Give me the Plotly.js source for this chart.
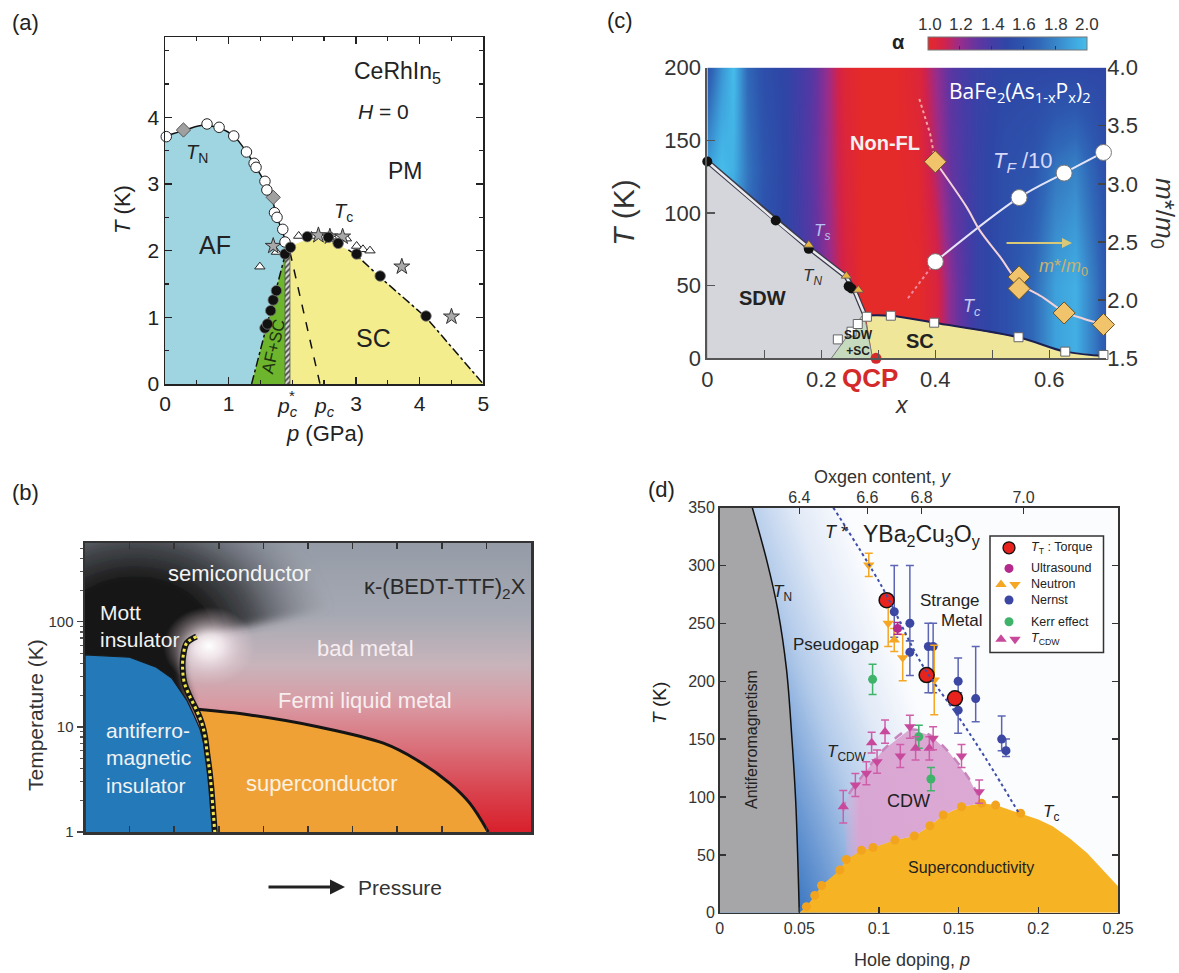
<!DOCTYPE html>
<html>
<head>
<meta charset="utf-8">
<script src="https://cdn.plot.ly/plotly-3.0.1.min.js"></script>
<style>
  html, body { margin: 0; padding: 0; background: #fff; }
  #fig { width: 1179px; height: 973px; }
</style>
</head>
<body>
<div id="fig"></div>
<script>
// ---------------- (a) CeRhIn5 at H = 0 ----------------
const aOpen_p   = [0.02, 0.66, 0.85, 1.08, 1.28, 1.40, 1.43, 1.57, 1.60, 1.72, 1.76, 1.85, 1.885];
const aOpen_T   = [3.71, 3.90, 3.85, 3.72, 3.48, 3.31, 3.25, 3.04, 2.91, 2.57, 2.50, 2.32, 2.13];
const aDiam_p   = [0.29, 1.70];
const aDiam_T   = [3.81, 2.80];
const aTc_p     = [1.57, 1.61, 1.66, 1.70, 1.75, 1.885, 1.97, 2.235, 2.565, 2.72, 3.01, 3.38, 4.10];
const aTc_T     = [0.84, 0.90, 1.10, 1.26, 1.40, 1.95, 2.05, 2.21, 2.20, 2.11, 1.95, 1.62, 1.02];
const aTri_p    = [1.49, 1.75, 2.10, 2.30, 2.62, 2.85, 3.01, 3.11, 3.22];
const aTri_T    = [1.76, 1.98, 2.22, 2.22, 2.21, 2.18, 2.07, 2.02, 2.00];
const aStar_p   = [1.70, 2.41, 2.59, 2.79, 3.72, 4.50];
const aStar_T   = [2.07, 2.23, 2.21, 2.21, 1.76, 1.01];
const aTNline_p = [0, 0.15, 0.35, 0.60, 0.85, 1.08, 1.28, 1.43, 1.57, 1.68, 1.76, 1.84, 1.93];
const aTNline_T = [3.72, 3.76, 3.82, 3.88, 3.84, 3.72, 3.48, 3.25, 3.02, 2.78, 2.50, 2.30, 2.03];
const aAFedge_p = [1.36, 1.885];
const aAFedge_T = [0, 1.93];
const aStrip_p  = [1.885, 1.963];
const aPc_p     = [1.963, 2.435];
const aPc_T     = [1.98, 0];
const aSCtop_p  = [1.963, 2.05, 2.235, 2.565, 2.72, 2.88, 3.01, 3.38, 4.10, 5.0];
const aSCtop_T  = [1.96, 2.10, 2.17, 2.16, 2.09, 2.01, 1.93, 1.60, 1.00, 0];

// ---------------- (b) kappa-(BEDT-TTF)2X ----------------
const bAF_x  = [0, 1.0, 1.6, 1.95, 2.12, 2.28, 2.44, 2.58, 2.66, 2.72, 2.78, 2.82, 2.86, 2.90];
const bAF_T  = [48.5, 46, 37, 29, 23, 18, 13, 9.5, 7, 5, 3.5, 2.5, 1.7, 1.0];
const bFO_x  = [2.50, 2.28, 2.20, 2.19, 2.23, 2.35, 2.50, 2.62, 2.69, 2.74, 2.79, 2.83, 2.86, 2.91];
const bFO_T  = [72.4, 62.7, 46.8, 34.9, 26.1, 19.5, 14.5, 10.8, 8.1, 5.6, 3.9, 2.7, 1.87, 1.0];
const bSC_x  = [2.52, 3.70, 5.19, 6.69, 7.44, 8.18, 8.63, 9.04];
const bSC_T  = [14.7, 13.0, 10.1, 7.0, 4.85, 2.9, 1.87, 1.0];
const bTickVals = [1, 10, 100];
const bTickText = ['1', '10', '100'];

// ---------------- (c) BaFe2(As1-xPx)2 ----------------
const alphaX = [0, 0.025, 0.045, 0.07, 0.10, 0.14, 0.18, 0.21, 0.24, 0.27, 0.33, 0.37, 0.40, 0.43, 0.47, 0.52, 0.57, 0.61, 0.645, 0.68, 0.70];
const alphaT = [0, 50, 130, 200];
const alphaZ = [
  [1.60, 1.70, 1.80, 1.70, 1.55, 1.48, 1.36, 1.22, 1.08, 1.00, 1.00, 1.00, 1.06, 1.25, 1.45, 1.55, 1.70, 1.90, 1.95, 1.75, 1.60],
  [1.60, 1.70, 1.80, 1.70, 1.55, 1.48, 1.36, 1.22, 1.08, 1.00, 1.00, 1.00, 1.06, 1.25, 1.45, 1.55, 1.70, 1.90, 1.95, 1.75, 1.60],
  [1.90, 2.00, 1.95, 1.75, 1.60, 1.48, 1.34, 1.20, 1.06, 1.00, 1.00, 1.02, 1.15, 1.32, 1.45, 1.55, 1.60, 1.75, 1.80, 1.65, 1.55],
  [1.60, 1.85, 2.00, 1.70, 1.55, 1.48, 1.36, 1.20, 1.04, 1.00, 1.00, 1.05, 1.20, 1.35, 1.45, 1.50, 1.50, 1.50, 1.50, 1.50, 1.50]
];
const alphaTicks = [1.0, 1.2, 1.4, 1.6, 1.8, 2.0];
const cTs_x   = [0, 0.12, 0.178, 0.244, 0.26, 0.275];
const cTs_T   = [135.4, 94.8, 76, 56, 45, 31];
const cSDWdot_x = [0, 0.12, 0.178, 0.248, 0.253];
const cSDWdot_T = [135.4, 94.8, 75.3, 49.5, 48];
const cStruct_x = [0.178, 0.244, 0.265];
const cStruct_T = [78, 56.7, 47];
const cMix_x  = [0.2175, 0.264, 0.275, 0.29];
const cMix_T  = [0, 25, 31, 0];
const cTc_x   = [0.278, 0.322, 0.398, 0.546, 0.628, 0.70];
const cTc_T   = [29.5, 29.3, 24.5, 14.5, 4.6, 1.5];
const cSq_x   = [0.229, 0.253, 0.264, 0.28, 0.322, 0.398, 0.546, 0.628, 0.695];
const cSq_T   = [13, 18.3, 23.6, 28.6, 29.3, 24.5, 14.5, 4.6, 2.3];
const cTF_x   = [0.40, 0.547, 0.626, 0.695];
const cTF_T   = [66.5, 110.6, 127.4, 141.6];
const cTFlow_x = [0.352, 0.40];
const cTFlow_T = [41.3, 66.5];
const cM_x    = [0.40, 0.547, 0.547, 0.626, 0.695];
const cM_v    = [3.19, 2.20, 2.10, 1.89, 1.79];
const cMline_x = [0.40, 0.455, 0.478, 0.514, 0.547, 0.59, 0.626, 0.66, 0.695];
const cMline_v = [3.19, 2.80, 2.60, 2.37, 2.15, 2.02, 1.90, 1.84, 1.79];
const cMhigh_x = [0.372, 0.391, 0.40];
const cMhigh_v = [3.73, 3.43, 3.19];
const cQCP = 0.296;

// ---------------- (d) YBa2Cu3Oy ----------------
const oxyTickLabels = ['6.4', '6.6', '6.8', '7.0'];
const oxyTickP      = [0.050, 0.0927, 0.1267, 0.1907];
const dTN_p  = [0.0205, 0.030, 0.0366, 0.042, 0.0453, 0.0478, 0.050];
const dTN_T  = [350, 302, 261, 210, 152, 95, 0];
const dTstar_p = [0.0713, 0.1017, 0.1268, 0.150, 0.1676, 0.1874];
const dTstar_T = [350, 282, 215, 169, 132, 87];
const dTc_p  = [0.050, 0.0545, 0.0597, 0.064, 0.0755, 0.0795, 0.089, 0.0963, 0.110, 0.1222, 0.132, 0.1403, 0.1518, 0.1644, 0.1732, 0.1889];
const dTc_T  = [0, 5.2, 15, 23.6, 37, 46, 54, 56.4, 62.8, 66.3, 75.2, 84.5, 91.6, 94.5, 93, 86];
const dTcEdge_p = [0.1889, 0.200, 0.209, 0.220, 0.2306, 0.240, 0.250];
const dTcEdge_T = [86, 80.5, 74.7, 64, 51.7, 38, 23];
const dCDW_p = [0.0776, 0.0797, 0.090, 0.1027, 0.119, 0.132, 0.1445, 0.157, 0.1644];
const dCDW_T = [88, 99, 119, 140.6, 158, 153.5, 137.7, 114.7, 95];
const torque_p = [0.1048, 0.1299, 0.1477];
const torque_T = [270, 205.3, 185.2];
const ultra_p = [0.1117];
const ultra_T = [245.6];
const ultra_err = [5];
const neutDn_p = [0.0936, 0.1058, 0.1149, 0.1347];
const neutDn_T = [300.4, 250, 220.3, 201];
const neutDn_err = [10, 20, 20, 30];
const neutUp_p = [0.1096];
const neutUp_T = [235.6];
const neutUp_err = [10];
const nernst_p = [0.1096, 0.1194, 0.1194, 0.131, 0.134, 0.1497, 0.1497, 0.1607, 0.177, 0.1797];
const nernst_T = [260, 250, 225, 230, 230, 200, 175, 185, 150, 140];
const nernst_up = [40, 50, 10, 20, 20, 20, 10, 45, 20, 10];
const nernst_dn = [22, 15, 20, 40, 40, 10, 20, 20, 10, 5];
const kerr_p = [0.096, 0.125, 0.1326];
const kerr_T = [201.6, 152, 115.5];
const kerr_err = [13, 10, 10];
const cdwUp_p = [0.0776, 0.0954, 0.1038, 0.123, 0.1316];
const cdwUp_T = [91.6, 146.9, 156.4, 142, 142];
const cdwUp_err = [14, 9, 10, 10, 10];
const cdwDn_p = [0.0852, 0.0921, 0.0988, 0.1134, 0.1194, 0.134, 0.1518, 0.1629];
const cdwDn_T = [110.4, 120.5, 130.5, 135.4, 160.7, 150.7, 135.4, 104.6];
const cdwDn_err = [10, 10, 10, 10, 10, 10, 10, 10];

// ================= drawing =================
const W = 1179, H = 973;
const FONT = 'Liberation Sans, Arial, Helvetica, sans-serif';
const box = {
  a: {l: 165, r: 483.3, t: 37.3, b: 384},
  b: {l: 85, r: 531, t: 543, b: 832},
  c: {l: 707.3, r: 1106.3, t: 67.6, b: 358.3},
  d: {l: 719.6, r: 1118, t: 507.5, b: 912.8}
};
const domX = P => [P.l / W, P.r / W];
const domY = P => [1 - P.b / H, 1 - P.t / H];
function label(text, X, Y, size, color, extra) {
  const a = {text: text, x: X / W, y: 1 - Y / H, xref: 'paper', yref: 'paper', showarrow: false,
    xanchor: 'center', yanchor: 'middle', font: {family: FONT, size: size, color: color || '#222'}};
  return Object.assign(a, extra || {});
}
// pixel -> data helpers for panel (d) legend glyphs
const dP = X => (X - box.d.l) / (box.d.r - box.d.l) * 0.25;
const dT = Y => (box.d.b - Y) / (box.d.b - box.d.t) * 350;

const traces = [];
const A = {xaxis: 'x', yaxis: 'y', hoverinfo: 'skip', showlegend: false, cliponaxis: false};
const B = {xaxis: 'x2', yaxis: 'y2', hoverinfo: 'skip', showlegend: false};
const C = {xaxis: 'x3', yaxis: 'y3', hoverinfo: 'skip', showlegend: false};
const CM = {xaxis: 'x3', yaxis: 'y5', hoverinfo: 'skip', showlegend: false};
const D = {xaxis: 'x4', yaxis: 'y4', hoverinfo: 'skip', showlegend: false};
const add = (base, t) => traces.push(Object.assign({}, base, t));

// ---- (a) regions
add(A, {type: 'scatter', mode: 'lines', fill: 'toself', fillcolor: '#9fd5e0', line: {width: 0},
  x: [0].concat(aTNline_p, aAFedge_p.slice().reverse()), y: [0].concat(aTNline_T, aAFedge_T.slice().reverse())});
add(A, {type: 'scatter', mode: 'lines', fill: 'toself', fillcolor: '#6cb52d', line: {width: 0},
  x: [aAFedge_p[0], aAFedge_p[1], aStrip_p[0]], y: [0, aAFedge_T[1], 0]});
add(A, {type: 'scatter', mode: 'lines', fill: 'toself', fillcolor: '#f3ed8d', line: {width: 0},
  x: [aStrip_p[1]].concat(aSCtop_p), y: [0].concat(aSCtop_T)});
add(A, {type: 'scatter', mode: 'lines', fill: 'toself', fillcolor: '#d8d8d8',
  fillpattern: {shape: '/', fgcolor: '#444', bgcolor: '#e0e0e0', size: 4, solidity: 0.45},
  line: {width: 0.8, color: '#555'},
  x: [aStrip_p[0], aStrip_p[0], aStrip_p[1], aStrip_p[1]], y: [0, aSCtop_T[0], aSCtop_T[0], 0]});
// (a) boundary lines
add(A, {type: 'scatter', mode: 'lines', x: aTNline_p, y: aTNline_T, line: {color: '#111', width: 1.5, shape: 'spline'}});
add(A, {type: 'scatter', mode: 'lines', x: aAFedge_p, y: aAFedge_T, line: {color: '#111', width: 1.5, dash: 'dashdot'}});
add(A, {type: 'scatter', mode: 'lines', x: aSCtop_p.slice(5), y: aSCtop_T.slice(5), line: {color: '#111', width: 1.5, dash: 'dashdot'}});
add(A, {type: 'scatter', mode: 'lines', x: aPc_p, y: aPc_T, line: {color: '#111', width: 1.5, dash: 'dash'}});
// (a) points
add(A, {type: 'scatter', mode: 'markers', x: aTri_p, y: aTri_T, marker: {symbol: 'triangle-up', size: 9, color: '#fff', line: {color: '#222', width: 1}}});
add(A, {type: 'scatter', mode: 'markers', x: aStar_p, y: aStar_T, marker: {symbol: 'star', size: 12, color: '#a8a8a8', line: {color: '#333', width: 1}}});
add(A, {type: 'scatter', mode: 'markers', x: aDiam_p, y: aDiam_T, marker: {symbol: 'diamond', size: 11, color: '#a0a0a0', line: {color: '#555', width: 1}}});
add(A, {type: 'scatter', mode: 'markers', x: aOpen_p, y: aOpen_T, marker: {symbol: 'circle', size: 10.5, color: '#fff', line: {color: '#222', width: 1}}});
add(A, {type: 'scatter', mode: 'markers', x: aTc_p, y: aTc_T, marker: {symbol: 'circle', size: 10.5, color: '#111', line: {color: '#777', width: 0.8}}});

// ---- (b) regions and lines
const bSCleft = [];
bFO_x.forEach((x, i) => { if (bFO_T[i] < bSC_T[0]) bSCleft.push([x, bFO_T[i]]); });
bSCleft.reverse();
add(B, {type: 'scatter', mode: 'lines', fill: 'toself', fillcolor: '#efa136', line: {width: 0},
  x: bSC_x.concat(bSCleft.map(p => p[0])), y: bSC_T.concat(bSCleft.map(p => p[1]))});
add(B, {type: 'scatter', mode: 'lines', fill: 'toself', fillcolor: '#2479b8', line: {color: '#1a1a1a', width: 1.2},
  x: [0].concat(bAF_x), y: [1].concat(bAF_T)});
add(B, {type: 'scatter', mode: 'lines', x: bSC_x, y: bSC_T, line: {color: '#151515', width: 3, shape: 'spline'}});
add(B, {type: 'scatter', mode: 'lines', x: bFO_x, y: bFO_T, line: {color: '#151515', width: 6, shape: 'spline'}});
add(B, {type: 'scatter', mode: 'lines', x: bFO_x, y: bFO_T, line: {color: '#f1e44a', width: 3, dash: 'dot', shape: 'spline'}});

// ---- (c) exponent map and phase regions
add(C, {type: 'heatmap', x: alphaX, y: alphaT, z: alphaZ, zmin: 1, zmax: 2, zsmooth: 'best',
  colorscale: [[0, '#e52a2a'], [0.1, '#d3224a'], [0.2, '#982d8c'], [0.3, '#6634a0'], [0.4, '#463ca6'],
               [0.5, '#2e47a6'], [0.6, '#2d55ae'], [0.7, '#3068b8'], [0.8, '#3884c8'], [0.9, '#3ea2dc'], [1, '#46bdeb']],
  colorbar: {orientation: 'h', x: (928 + 1087) / 2 / W, xanchor: 'center', y: 1 - 55 / H, yanchor: 'bottom',
    len: (1087 - 928) / W, lenmode: 'fraction', thickness: 13, thicknessmode: 'pixels',
    outlinewidth: 1, outlinecolor: '#777', showticklabels: false, ticks: 'inside', tickvals: alphaTicks,
    ticklen: 4, tickcolor: '#333', xpad: 0, ypad: 0}});
add(C, {type: 'scatter', mode: 'lines', fill: 'toself', fillcolor: '#d4d6dc', line: {width: 0},
  x: [0].concat(cTs_x, [cMix_x[3]]), y: [0].concat(cTs_T, [0])});
add(C, {type: 'scatter', mode: 'lines', fill: 'toself', fillcolor: '#efe69a', line: {width: 0},
  x: [cMix_x[3]].concat(cTc_x, [cTc_x[cTc_x.length - 1]]), y: [0].concat(cTc_T, [0])});
add(C, {type: 'scatter', mode: 'lines', fill: 'toself', fillcolor: '#c6dabd', line: {color: '#777', width: 1},
  x: cMix_x, y: cMix_T});
add(C, {type: 'scatter', mode: 'lines', x: cTs_x, y: cTs_T, line: {color: '#3a3a4a', width: 5}});
add(C, {type: 'scatter', mode: 'lines', x: cTs_x, y: cTs_T, line: {color: '#e9e9ee', width: 2.5}});
add(C, {type: 'scatter', mode: 'lines', x: cTc_x, y: cTc_T, line: {color: '#1c2050', width: 2, shape: 'spline'}});
add(C, {type: 'scatter', mode: 'lines', x: cTFlow_x, y: cTFlow_T, line: {color: '#f08aa0', width: 2, dash: 'dot'}});
add(C, {type: 'scatter', mode: 'lines', x: cTF_x, y: cTF_T, line: {color: '#e4e4f6', width: 2, shape: 'spline'}});
add(CM, {type: 'scatter', mode: 'lines', x: cMhigh_x, y: cMhigh_v, line: {color: '#f4a6a0', width: 2, dash: 'dot'}});
add(CM, {type: 'scatter', mode: 'lines', x: cMline_x, y: cMline_v, line: {color: '#f2d2d8', width: 2, shape: 'spline'}});
add(C, {type: 'scatter', mode: 'markers', x: cSq_x, y: cSq_T, cliponaxis: false, marker: {symbol: 'square', size: 9, color: '#fff', line: {color: '#666', width: 1}}});
add(C, {type: 'scatter', mode: 'markers', x: cSDWdot_x, y: cSDWdot_T, cliponaxis: false, marker: {symbol: 'circle', size: 10, color: '#111'}});
add(C, {type: 'scatter', mode: 'markers', x: cStruct_x, y: cStruct_T, marker: {symbol: 'triangle-up', size: 9, color: '#e8b444', line: {color: '#555', width: 0.8}}});
add(C, {type: 'scatter', mode: 'markers', x: cTF_x, y: cTF_T, cliponaxis: false, marker: {symbol: 'circle', size: 16, color: '#fff', line: {color: '#777', width: 1}}});
add(CM, {type: 'scatter', mode: 'markers', x: cM_x, y: cM_v, cliponaxis: false, marker: {symbol: 'diamond', size: 17, color: '#f1c46c', line: {color: '#6a5020', width: 1}}});
add(C, {type: 'scatter', mode: 'markers', x: [cQCP], y: [0], cliponaxis: false, marker: {symbol: 'circle', size: 11, color: '#d42a2a'}});

// ---- (d) regions
add(D, {type: 'scatter', mode: 'lines', fill: 'toself', fillcolor: '#a6a6a8', line: {width: 0},
  x: [0, 0].concat(dTN_p), y: [0, 350].concat(dTN_T)});
add(D, {type: 'scatter', mode: 'lines', fill: 'toself', fillcolor: '#f6b424', line: {width: 0},
  x: dTc_p.concat(dTcEdge_p.slice(1), [0.25]), y: dTc_T.concat(dTcEdge_T.slice(1), [0])});
const domeUnder = [];
dTc_p.forEach((p, i) => { if (p >= dCDW_p[0] && p <= dCDW_p[dCDW_p.length - 1]) domeUnder.push([p, dTc_T[i]]); });
domeUnder.reverse();
add(D, {type: 'scatter', mode: 'lines', fill: 'toself', fillcolor: 'rgba(218,164,210,0.95)',
  fillgradient: {type: 'horizontal', colorscale: [[0, 'rgba(218,164,210,0.1)'], [0.12, 'rgba(218,164,210,0.95)'], [1, 'rgba(218,164,210,0.95)']]},
  line: {width: 0},
  x: dCDW_p.concat(domeUnder.map(p => p[0])), y: dCDW_T.concat(domeUnder.map(p => p[1]))});
add(D, {type: 'scatter', mode: 'lines', x: dTN_p, y: dTN_T, line: {color: '#111', width: 1.5, shape: 'spline'}});
add(D, {type: 'scatter', mode: 'lines', x: dCDW_p, y: dCDW_T, line: {color: '#c784bd', width: 2.5, dash: 'dash', shape: 'spline'}});
traces.push({type: 'scatter', mode: 'lines', xaxis: 'x5', yaxis: 'y4', hoverinfo: 'skip', showlegend: false,
  x: dTstar_p, y: dTstar_T, line: {color: '#3f4ea8', width: 2, dash: 'dot', shape: 'spline'}});
add(D, {type: 'scatter', mode: 'markers', x: dTc_p.slice(1), y: dTc_T.slice(1), marker: {symbol: 'circle', size: 9, color: '#f3a41e'}});
// (d) measurements with error bars
const eb = (plus, minus, color) => ({type: 'data', symmetric: false, array: plus, arrayminus: minus, color: color, thickness: 1.5, width: 4});
add(D, {type: 'scatter', mode: 'markers', x: nernst_p, y: nernst_T, error_y: eb(nernst_up, nernst_dn, '#5d66b4'),
  marker: {symbol: 'circle', size: 9, color: '#3b47a2'}});
add(D, {type: 'scatter', mode: 'markers', x: neutDn_p, y: neutDn_T, error_y: eb(neutDn_err, neutDn_err, '#f5a623'),
  marker: {symbol: 'triangle-down', size: 10, color: '#f5a623'}});
add(D, {type: 'scatter', mode: 'markers', x: neutUp_p, y: neutUp_T, error_y: eb(neutUp_err, neutUp_err, '#f5a623'),
  marker: {symbol: 'triangle-up', size: 10, color: '#f5a623'}});
add(D, {type: 'scatter', mode: 'markers', x: ultra_p, y: ultra_T, error_y: eb(ultra_err, ultra_err, '#b32a8c'),
  marker: {symbol: 'circle', size: 9, color: '#b32a8c'}});
add(D, {type: 'scatter', mode: 'markers', x: kerr_p, y: kerr_T, error_y: eb(kerr_err, kerr_err, '#3fb36a'),
  marker: {symbol: 'circle', size: 9, color: '#3fb36a'}});
add(D, {type: 'scatter', mode: 'markers', x: cdwUp_p, y: cdwUp_T, error_y: eb(cdwUp_err, cdwUp_err, '#cf5ea8'),
  marker: {symbol: 'triangle-up', size: 10, color: '#c8489c'}});
add(D, {type: 'scatter', mode: 'markers', x: cdwDn_p, y: cdwDn_T, error_y: eb(cdwDn_err, cdwDn_err, '#cf5ea8'),
  marker: {symbol: 'triangle-down', size: 10, color: '#c8489c'}});
add(D, {type: 'scatter', mode: 'markers', x: torque_p, y: torque_T, marker: {symbol: 'circle', size: 15, color: '#e8231e', line: {color: '#111', width: 1.5}}});
// (d) legend glyphs
const legRows = [547.8, 568.4, 584.4, 600, 621.7, 639.3];
add(D, {type: 'scatter', mode: 'markers', x: [dP(1009)], y: [dT(legRows[0])], marker: {symbol: 'circle', size: 12, color: '#e8231e', line: {color: '#111', width: 1.3}}});
add(D, {type: 'scatter', mode: 'markers', x: [dP(1009)], y: [dT(legRows[1])], marker: {symbol: 'circle', size: 9, color: '#b32a8c'}});
add(D, {type: 'scatter', mode: 'markers', x: [dP(1001)], y: [dT(legRows[2])], marker: {symbol: 'triangle-up', size: 10, color: '#f5a623'}});
add(D, {type: 'scatter', mode: 'markers', x: [dP(1015)], y: [dT(legRows[2])], marker: {symbol: 'triangle-down', size: 10, color: '#f5a623'}});
add(D, {type: 'scatter', mode: 'markers', x: [dP(1009)], y: [dT(legRows[3])], marker: {symbol: 'circle', size: 9, color: '#3b47a2'}});
add(D, {type: 'scatter', mode: 'markers', x: [dP(1009)], y: [dT(legRows[4])], marker: {symbol: 'circle', size: 9, color: '#3fb36a'}});
add(D, {type: 'scatter', mode: 'markers', x: [dP(1001)], y: [dT(legRows[5])], marker: {symbol: 'triangle-up', size: 10, color: '#c8489c'}});
add(D, {type: 'scatter', mode: 'markers', x: [dP(1015)], y: [dT(legRows[5])], marker: {symbol: 'triangle-down', size: 10, color: '#c8489c'}});

// ---- background shading images (b) and (d)
const bw = box.b.r - box.b.l, bh = box.b.b - box.b.t;
const svgB = `<svg xmlns='http://www.w3.org/2000/svg' width='${bw}' height='${bh}' viewBox='0 0 ${bw} ${bh}'>
<defs>
<linearGradient id='v' x1='0' y1='0' x2='0' y2='1'>
<stop offset='0' stop-color='#959ca7'/><stop offset='0.25' stop-color='#a6a9b3'/>
<stop offset='0.42' stop-color='#c8b4bb'/><stop offset='0.56' stop-color='#d99aa3'/>
<stop offset='0.72' stop-color='#d96c76'/><stop offset='0.87' stop-color='#d9404b'/>
<stop offset='1' stop-color='#d8202c'/></linearGradient>
<radialGradient id='dk' gradientUnits='userSpaceOnUse' cx='50' cy='95' r='200' gradientTransform='translate(50 95) scale(1 0.78) translate(-50 -95)'>
<stop offset='0' stop-color='#161616' stop-opacity='1'/><stop offset='0.38' stop-color='#181818' stop-opacity='1'/>
<stop offset='0.6' stop-color='#2e3034' stop-opacity='0.78'/><stop offset='0.82' stop-color='#52565d' stop-opacity='0.35'/>
<stop offset='1' stop-color='#777' stop-opacity='0'/></radialGradient>
<radialGradient id='gl' gradientUnits='userSpaceOnUse' cx='124' cy='103' r='46' gradientTransform='translate(124 103) scale(1 0.85) translate(-124 -103)'>
<stop offset='0' stop-color='#ffffff' stop-opacity='1'/><stop offset='0.3' stop-color='#f8eef2' stop-opacity='0.85'/>
<stop offset='0.7' stop-color='#ecd6de' stop-opacity='0.35'/><stop offset='1' stop-color='#e8d0d8' stop-opacity='0'/></radialGradient>
<filter id='bl' x='-0.2' y='-0.2' width='1.4' height='1.4'><feGaussianBlur stdDeviation='4'/></filter>
</defs>
<rect width='${bw}' height='${bh}' fill='url(#v)'/>
<path d='M-20,-20 L${bw + 20},-20 L${bw + 20},20 L111.5,93.7 L101.7,100.3 L98.1,113.6 L97.7,127 L99.5,140.3 L104.8,153.7 L108,175 L-20,175 Z' fill='url(#dk)' filter='url(#bl)'/>
<rect width='${bw}' height='${bh}' fill='url(#gl)'/>
</svg>`;
const dw = box.d.r - box.d.l, dh = box.d.b - box.d.t;
const svgD = `<svg xmlns='http://www.w3.org/2000/svg' width='${dw}' height='${dh}' viewBox='0 0 ${dw} ${dh}'>
<defs><linearGradient id='g' gradientUnits='userSpaceOnUse' x1='70' y1='405' x2='250' y2='340'>
<stop offset='0' stop-color='#2f6fbd'/><stop offset='0.25' stop-color='#6f9bd4'/>
<stop offset='0.5' stop-color='#b3cbea'/><stop offset='0.75' stop-color='#e2eaf7'/>
<stop offset='1' stop-color='#fbfcfe'/></linearGradient></defs>
<rect width='${dw}' height='${dh}' fill='url(#g)'/></svg>`;
const svgURI = s => 'data:image/svg+xml;charset=utf-8,' + encodeURIComponent(s);

// ---- axes
const tf = (size, color) => ({family: FONT, size: size, color: color || '#222'});
const common = {showgrid: false, zeroline: false, fixedrange: true};
const layout = {
  width: W, height: H, margin: {l: 0, r: 0, t: 0, b: 0},
  paper_bgcolor: '#fff', plot_bgcolor: 'rgba(0,0,0,0)', showlegend: false, font: {family: FONT},
  xaxis: Object.assign({}, common, {domain: domX(box.a), anchor: 'y', range: [0, 5],
    tickvals: [0, 1, 3, 4, 5], ticks: 'inside', ticklen: 7, tickwidth: 1.3,
    tickcolor: '#222', showline: true, linecolor: '#222', linewidth: 1.5, mirror: 'ticks', tickfont: tf(21),
    minor: {tickmode: 'linear', tick0: 0, dtick: 0.5, ticks: 'inside', ticklen: 4, tickcolor: '#222'}}),
  yaxis: Object.assign({}, common, {domain: domY(box.a), anchor: 'x', range: [0, 5.2],
    tickvals: [0, 1, 2, 3, 4], ticks: 'inside', ticklen: 7, tickwidth: 1.3,
    tickcolor: '#222', showline: true, linecolor: '#222', linewidth: 1.5, mirror: 'ticks', tickfont: tf(21),
    minor: {tickmode: 'linear', tick0: 0, dtick: 0.5, ticks: 'inside', ticklen: 4, tickcolor: '#222'}}),
  xaxis2: Object.assign({}, common, {domain: domX(box.b), anchor: 'y2', range: [0, 10],
    tickvals: [1, 2, 3, 4, 5, 6, 7, 8, 9], showticklabels: false, ticks: 'inside', ticklen: 6, tickwidth: 1.5,
    tickcolor: '#333', showline: true, linecolor: '#333', linewidth: 2.5, mirror: 'ticks'}),
  yaxis2: Object.assign({}, common, {domain: domY(box.b), anchor: 'x2', type: 'log', range: [0, 2.75],
    tickvals: bTickVals, ticktext: bTickText, ticks: 'outside', ticklen: 6, tickwidth: 1.2, tickcolor: '#444',
    showline: true, linecolor: '#333', linewidth: 2.5, mirror: true, tickfont: tf(15, '#333'),
    minor: {tickvals: [2, 3, 4, 5, 6, 7, 8, 9, 20, 30, 40, 50, 60, 70, 80, 90, 200, 300, 400, 500], ticks: 'outside', ticklen: 3, tickcolor: '#555'}}),
  xaxis3: Object.assign({}, common, {domain: domX(box.c), anchor: 'y3', range: [0, 0.7],
    tickvals: [0, 0.2, 0.4, 0.6], ticktext: ['0', '0.2', '0.4', '0.6'],
    ticks: 'inside', ticklen: 8, tickwidth: 1.5, tickcolor: '#555', showline: true, linecolor: '#555', linewidth: 2,
    tickfont: tf(22, '#333'),
    minor: {tickmode: 'linear', tick0: 0, dtick: 0.1, ticks: 'inside', ticklen: 8, tickwidth: 1.5, tickcolor: '#555'}}),
  yaxis3: Object.assign({}, common, {domain: domY(box.c), anchor: 'x3', range: [0, 200],
    tickvals: [0, 50, 100, 150, 200], ticks: 'inside', ticklen: 8, tickwidth: 1.5, tickcolor: '#555',
    showline: true, linecolor: '#555', linewidth: 2, tickfont: tf(22, '#333')}),
  yaxis5: Object.assign({}, common, {overlaying: 'y3', side: 'right', anchor: 'x3', range: [1.5, 4.0],
    tickvals: [1.5, 2.0, 2.5, 3.0, 3.5, 4.0], ticktext: ['1.5', '2.0', '2.5', '3.0', '3.5', '4.0'],
    ticks: 'inside', ticklen: 8, tickwidth: 1.5, tickcolor: '#444', showline: false, tickfont: tf(22, '#333')}),
  xaxis4: Object.assign({}, common, {domain: domX(box.d), anchor: 'y4', range: [0, 0.25],
    tickvals: [0, 0.05, 0.1, 0.15, 0.2, 0.25], ticktext: ['0', '0.05', '0.1', '0.15', '0.2', '0.25'],
    ticks: 'inside', ticklen: 6, tickwidth: 1.3, tickcolor: '#333', showline: true, linecolor: '#333', linewidth: 1.5,
    mirror: true, tickfont: tf(16, '#333')}),
  xaxis5: Object.assign({}, common, {overlaying: 'x4', side: 'top', anchor: 'y4', range: [0, 0.25],
    tickvals: oxyTickP, ticktext: oxyTickLabels, ticks: 'inside', ticklen: 6, tickwidth: 1.3, tickcolor: '#333',
    showline: false, tickfont: tf(16, '#333')}),
  yaxis4: Object.assign({}, common, {domain: domY(box.d), anchor: 'x4', range: [0, 350],
    tickvals: [0, 50, 100, 150, 200, 250, 300, 350], ticks: 'inside', ticklen: 6, tickwidth: 1.3, tickcolor: '#333',
    showline: true, linecolor: '#333', linewidth: 1.5, mirror: 'ticks', tickfont: tf(16, '#333')}),
  images: [
    {source: svgURI(svgB), xref: 'paper', yref: 'paper', x: box.b.l / W, y: 1 - box.b.t / H,
      sizex: bw / W, sizey: bh / H, xanchor: 'left', yanchor: 'top', sizing: 'stretch', layer: 'below'},
    {source: svgURI(svgD), xref: 'paper', yref: 'paper', x: box.d.l / W, y: 1 - box.d.t / H,
      sizex: dw / W, sizey: dh / H, xanchor: 'left', yanchor: 'top', sizing: 'stretch', layer: 'below'}
  ],
  shapes: [
    {type: 'rect', xref: 'paper', yref: 'paper', x0: 990 / W, x1: 1103.5 / W, y0: 1 - 652.6 / H, y1: 1 - 536 / H,
      line: {color: '#333', width: 1.5}, fillcolor: '#fff', layer: 'below'}
  ],
  annotations: []
};

const ann = layout.annotations;
// (a)
ann.push(label('(a)', 25, 22, 22));
ann.push(label('CeRhIn<sub>5</sub>', 397, 73, 23));
ann.push(label('<i>H</i> = 0', 383, 112, 21));
ann.push(label('PM', 405, 171, 23));
ann.push(label('AF', 215, 245, 25));
ann.push(label('SC', 373, 338, 25));
ann.push(label('<i>T</i><sub>N</sub>', 197, 153, 20));
ann.push(label('<i>T</i><sub>c</sub>', 343, 213, 20));
ann.push(label('AF+SC', 273, 347, 17, '#1d3012', {textangle: -77}));
ann.push(label('<i>p<sub>c</sub></i>', 287, 407, 21));
ann.push(label('*', 292, 395, 15));
ann.push(label('<i>p<sub>c</sub></i>', 324, 407, 21));
ann.push(label('<i>p</i> (GPa)', 325, 433, 22));
ann.push(label('<i>T</i> (K)', 122, 210, 22, '#222', {textangle: -90}));
// (b)
ann.push(label('(b)', 25, 492, 22));
ann.push(label('semiconductor', 240, 573, 22, '#f4f4f4'));
ann.push(label('κ-(BEDT-TTF)<sub>2</sub>X', 362, 588, 22, '#2a2a2a', {xanchor: 'left'}));
ann.push(label('Mott<br>insulator', 98, 626, 21, '#f2f2f2', {xanchor: 'left', align: 'left'}));
ann.push(label('bad metal', 365, 648, 22, '#f7eef0'));
ann.push(label('Fermi liquid metal', 365, 700, 22, '#f7eef0'));
ann.push(label('antiferro-<br>magnetic<br>insulator', 104, 758, 21, '#f2f2f2', {xanchor: 'left', align: 'left'}));
ann.push(label('superconductor', 322, 783, 22, '#fbf1e2'));
ann.push(label('Temperature (K)', 35, 715, 21, '#333', {textangle: -90}));
ann.push(label('Pressure', 400, 887, 21, '#333'));
ann.push({x: 345 / W, y: 1 - 887 / H, xref: 'paper', yref: 'paper', ax: -78, ay: 0, axref: 'pixel', ayref: 'pixel',
  text: '', showarrow: true, arrowhead: 2, arrowsize: 1, arrowwidth: 3, arrowcolor: '#222'});
// (c)
ann.push(label('(c)', 620, 21, 22));
ann.push(label('<b>α</b>', 898, 42, 20));
alphaTicks.forEach(v => ann.push(label(v.toFixed(1), 930 + (v - 1) * (1085 - 928), 25, 17, '#333')));
ann.push(label('<b>QCP</b>', 870, 378, 26, '#d42a2a'));
ann.push(label('<i>x</i>', 902, 405, 23, '#333'));
ann.push(label('<i>T</i> (K)', 624, 213, 30, '#333', {textangle: -90}));
ann.push(label('<i>m</i>*/<i>m</i><sub>0</sub>', 1163, 213, 26, '#333', {textangle: 90}));
ann.push(label('BaFe<sub>2</sub>(As<sub>1-x</sub>P<sub>x</sub>)<sub>2</sub>', 1020, 92, 21, '#ffffff',
  {font: {family: 'Open Sans, Noto Sans, sans-serif', size: 21, color: '#ffffff'}}));
ann.push(label('<b>Non-FL</b>', 885, 143, 20, '#f4f0f0'));
ann.push(label('<i>T<sub>F</sub></i> /10', 1023, 162, 22, '#d8d8fa'));
ann.push(label('<i>T<sub>s</sub></i>', 822, 232, 17, '#b8c2f0'));
ann.push(label('<i>T<sub>N</sub></i>', 812, 277, 17, '#333'));
ann.push(label('<b>SDW</b>', 762, 298, 20, '#222'));
ann.push(label('<b>SC</b>', 920, 341, 20, '#222'));
ann.push(label('<b>SDW<br>+SC</b>', 858, 343, 12, '#222'));
ann.push(label('<i>T<sub>c</sub></i>', 972, 307, 18, '#c8ccf2'));
ann.push(label('<i>m</i>*/<i>m</i><sub>0</sub>', 1063, 267, 18, '#c9b26e'));
ann.push({x: 1072 / W, y: 1 - 243 / H, xref: 'paper', yref: 'paper', ax: -67, ay: 0, axref: 'pixel', ayref: 'pixel',
  text: '', showarrow: true, arrowhead: 2, arrowsize: 1, arrowwidth: 2, arrowcolor: '#d8c878'});
// (d)
ann.push(label('(d)', 661, 489, 22));
ann.push(label('Oxgen content, <i>y</i>', 882, 477, 18, '#333'));
ann.push(label('YBa<sub>2</sub>Cu<sub>3</sub>O<sub>y</sub>', 922, 535, 23, '#222'));
ann.push(label('<i>T</i> *', 836, 532, 18, '#222'));
ann.push(label('<i>T</i><sub>N</sub>', 782, 593, 17, '#222'));
ann.push(label('Strange', 950, 600, 17, '#222'));
ann.push(label('Metal', 962, 620, 17, '#222'));
ann.push(label('Pseudogap', 836, 644, 17, '#222'));
ann.push(label('Antiferromagnetism', 751, 740, 16, '#222', {textangle: -90}));
ann.push(label('<i>T</i><sub>CDW</sub>', 847, 753, 17, '#222'));
ann.push(label('CDW', 908, 801, 18, '#222'));
ann.push(label('<i>T</i><sub>c</sub>', 1051, 813, 17, '#222'));
ann.push(label('Superconductivity', 971, 867, 16, '#222'));
ann.push(label('Hole doping, <i>p</i>', 912, 960, 18, '#333'));
ann.push(label('<i>T</i> (K)', 659, 703, 19, '#222', {textangle: -90}));
const legText = ['<i>T</i><sub>T</sub> : Torque', 'Ultrasound', 'Neutron', 'Nernst', 'Kerr effect', '<i>T</i><sub>CDW</sub>'];
legText.forEach((t, i) => ann.push(label(t, 1028.5, legRows[i], 12.5, '#222', {xanchor: 'left'})));

Plotly.newPlot('fig', traces, layout, {staticPlot: true, displayModeBar: false});
</script>
</body>
</html>
